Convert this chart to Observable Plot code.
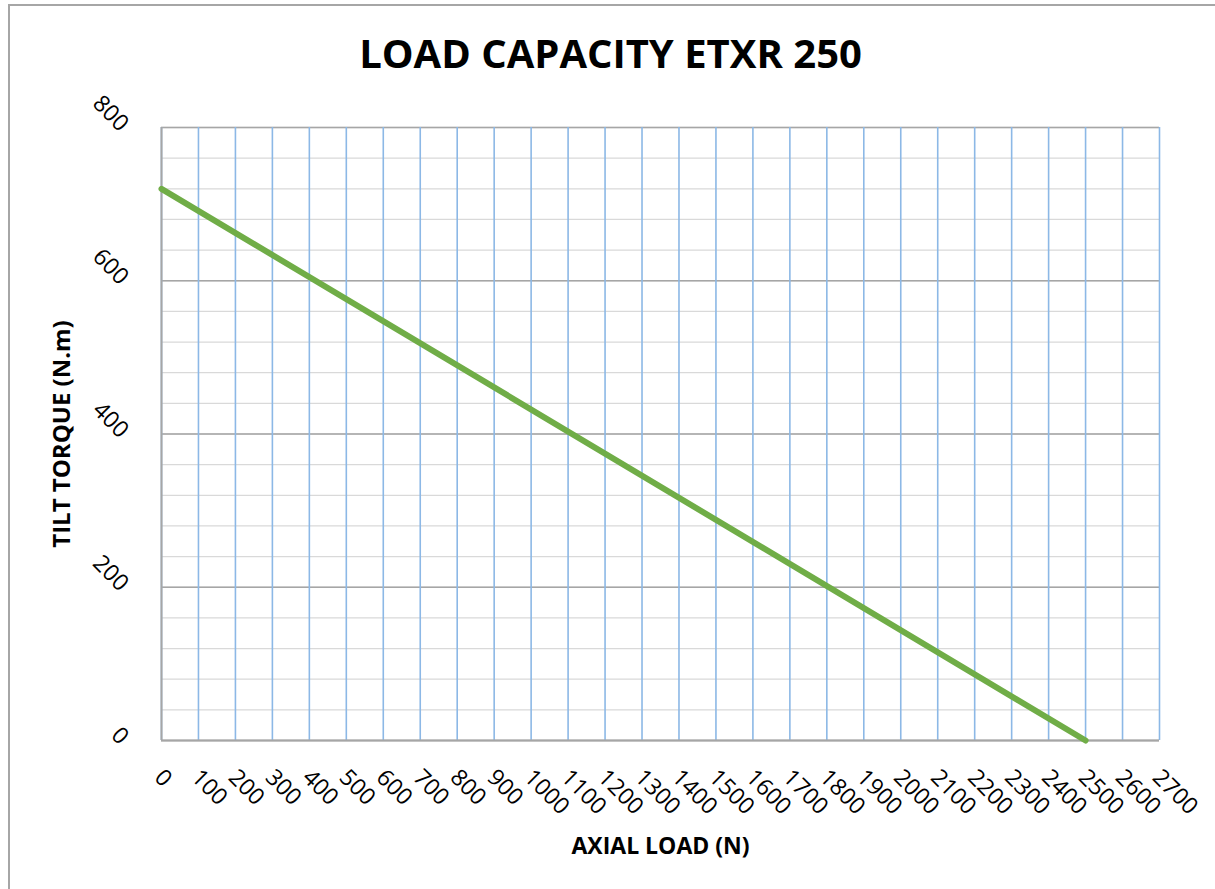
<!DOCTYPE html>
<html>
<head>
<meta charset="utf-8">
<script src="https://cdn.jsdelivr.net/npm/d3@7"></script>
<script src="https://cdn.jsdelivr.net/npm/@observablehq/plot@0.6"></script>
<style>
  html, body { margin: 0; padding: 0; background: #fff; }
  #frame { position: absolute; left: 8px; top: 4px; width: 1207px; height: 885px;
           border-left: 2px solid #a6a6a6; border-top: 2px solid #a6a6a6; box-sizing: border-box; }
  #chart { position: absolute; left: 0; top: 0; }
</style>
</head>
<body>
<div id="frame"></div>
<div id="chart"></div>
<script>
const title = "LOAD CAPACITY ETXR 250";
const xLabel = "AXIAL LOAD (N)";
const yLabel = "TILT TORQUE (N.m)";
const axialLoad = [0, 2500];
const tiltTorque = [720, 0];
const xTicks = d3.range(0, 2701, 100);
const yMajorTicks = [0, 200, 400, 600, 800];
const yMinorTicks = d3.range(0, 801, 40);

const data = axialLoad.map((x, i) => ({x, y: tiltTorque[i]}));
const font = "'Open Sans', sans-serif";

const chart = Plot.plot({
  width: 1215,
  height: 889,
  marginLeft: 161,
  marginRight: 56,
  marginTop: 127,
  marginBottom: 149,
  style: {fontFamily: font, background: "transparent"},
  x: {domain: [0, 2700], axis: null},
  y: {domain: [0, 800], axis: null},
  marks: [
    Plot.gridY(yMinorTicks, {stroke: "#d9d9d9", strokeOpacity: 1, strokeWidth: 1.3}),
    Plot.gridY(yMajorTicks, {stroke: "#a6a6a6", strokeOpacity: 1, strokeWidth: 1.3}),
    Plot.gridX(xTicks, {stroke: "#8cb8e6", strokeOpacity: 1, strokeWidth: 1.6}),
    Plot.ruleX([0], {stroke: "#a6a6a6", strokeWidth: 2}),
    Plot.ruleY([0], {stroke: "#a6a6a6", strokeWidth: 2}),
    Plot.text(xTicks, {
      x: d => d, frameAnchor: "bottom", text: d => String(d),
      rotate: 45, textAnchor: "start", lineAnchor: "middle", dx: -3, dy: 33, fontSize: 23, fill: "#000"
    }),
    Plot.text(yMajorTicks, {
      y: d => d, frameAnchor: "left", text: d => String(d),
      rotate: 45, textAnchor: "end", lineAnchor: "middle", dx: -37, dy: 0, fontSize: 23, fill: "#000"
    }),
    Plot.line(data, {x: "x", y: "y", stroke: "#70ad47", strokeWidth: 6, strokeLinecap: "round"}),
    Plot.text([title], {frameAnchor: "top", dy: -72, dx: -50, fontSize: 40, fontWeight: "bold", fill: "#000", lineAnchor: "middle"}),
    Plot.text([xLabel], {frameAnchor: "bottom", dy: 106, dx: 0, fontSize: 23, fontWeight: "bold", fill: "#000", textAnchor: "middle", lineAnchor: "middle"}),
    Plot.text([yLabel], {frameAnchor: "left", dx: -99, dy: 0, rotate: -90, fontSize: 24, fontWeight: "bold", fill: "#000", textAnchor: "middle", lineAnchor: "middle"})
  ]
});
document.getElementById("chart").appendChild(chart);
</script>
</body>
</html>
